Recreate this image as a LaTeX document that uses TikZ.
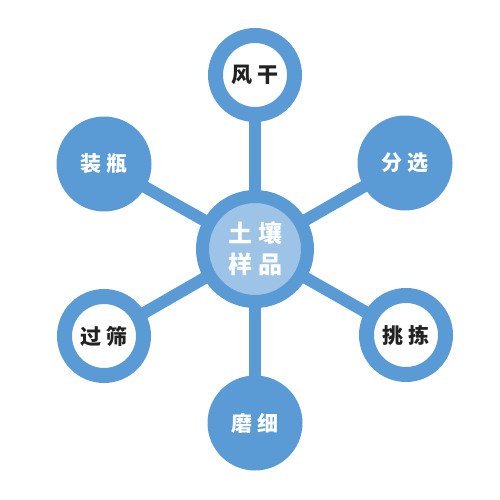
\documentclass[tikz,border=0pt]{standalone}
\usepackage{fontspec}
\setmainfont{Noto Sans CJK SC}
\usetikzlibrary{backgrounds}
\definecolor{mblue}{HTML}{5B9BD5}
\definecolor{lblue}{HTML}{9DC3E6}
\definecolor{dtext}{HTML}{222222}
\tikzset{
  ringnode/.style={circle, draw=mblue, line width=15pt, fill=white, minimum size=79pt, inner sep=0pt, text=dtext, font=\bfseries\fontsize{21}{24}\selectfont},
  fillnode/.style={circle, fill=mblue, minimum size=95pt, inner sep=0pt, text=white, font=\bfseries\fontsize{21}{24}\selectfont},
  hubnode/.style={circle, draw=mblue, line width=13pt, fill=lblue, minimum size=105pt, inner sep=0pt, text=white, align=center, font=\bfseries\fontsize{24}{31}\selectfont},
  spoke/.style={draw=mblue, line width=12pt}
}
\begin{document}
\begin{tikzpicture}[x=1pt,y=-1pt]
\useasboundingbox (0,0) rectangle (500,500);
\node[hubnode] (c) at (255,249) {土\hspace{6pt}壤\\样\hspace{6pt}品};
\node[ringnode] (fg) at (255,75) {风\hspace{5pt}干};
\node[fillnode] (fx) at (405,163) {分\hspace{5pt}选};
\node[ringnode] (tj) at (406,335) {挑\hspace{5pt}拣};
\node[fillnode] (mx) at (255,423) {磨\hspace{5pt}细};
\node[ringnode] (gs) at (104,336) {过\hspace{5pt}筛};
\node[fillnode] (zp) at (104,164) {装\hspace{5pt}瓶};
\begin{pgfonlayer}{background}
\fill[white] (0,0) rectangle (500,500);
\foreach \n in {fg,fx,tj,mx,gs,zp}{
  \draw[spoke] (c.center) -- (\n.center);
}
\end{pgfonlayer}
\end{tikzpicture}
\end{document}
